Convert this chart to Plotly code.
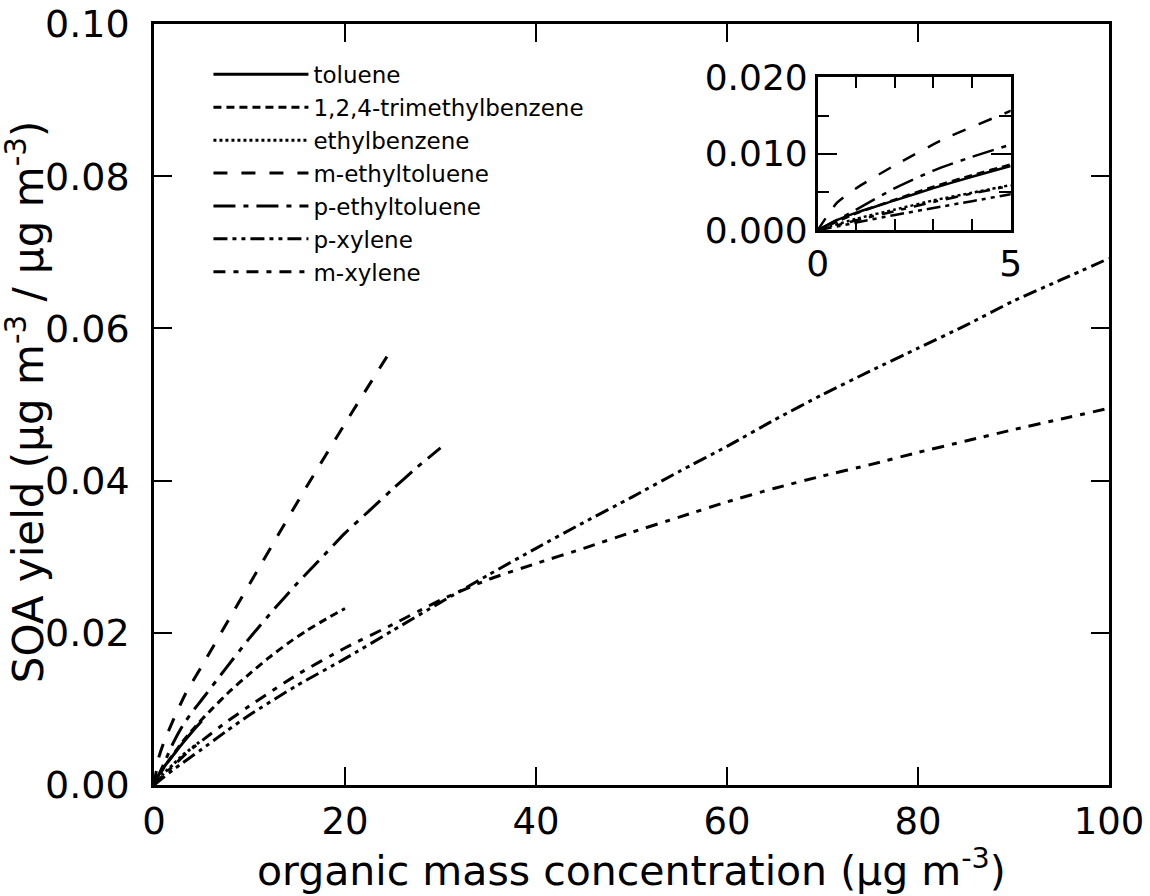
import plotly.graph_objects as go

# ---------------- data ----------------
names = ["toluene", "1,2,4-trimethylbenzene", "ethylbenzene", "m-ethyltoluene",
         "p-ethyltoluene", "p-xylene", "m-xylene"]

toluene_x = [0, 0.4, 1, 2, 3, 4, 5]
toluene_y = [0, 0.0011, 0.0023, 0.0039, 0.0055, 0.0070, 0.0084]

tmb_x = [0, 1, 2, 3, 4, 5, 6, 8, 10, 12, 14, 16, 18, 20]
tmb_y = [0, 0.0022, 0.0040, 0.0057, 0.0072, 0.0086, 0.0099, 0.0124, 0.0146,
         0.0167, 0.0186, 0.0203, 0.0218, 0.0232]

ethylbenzene_x = [0, 1, 2, 3, 4, 5]
ethylbenzene_y = [0, 0.0015, 0.0027, 0.0039, 0.0049, 0.0059]

m_ethyltoluene_x = [0, 0.5, 1, 2, 3.3, 5, 8, 11.3, 15.5, 20.4, 25]
m_ethyltoluene_y = [0, 0.0036, 0.0055, 0.0085, 0.0120, 0.0156, 0.0221, 0.0292,
                    0.0382, 0.0483, 0.0575]

p_ethyltoluene_x = [0, 1, 2, 3, 4, 5, 7.5, 10, 12.5, 15, 17.5, 20, 22.5, 25, 27.5, 30]
p_ethyltoluene_y = [0, 0.0027, 0.0055, 0.0078, 0.0096, 0.0112, 0.0153, 0.0193, 0.0230,
                    0.0265, 0.0298, 0.0331, 0.0360, 0.0389, 0.0417, 0.0443]

xylene_x = [0, 1, 2, 3, 4, 5, 7.5, 10, 15, 20, 25, 30, 35, 40, 45, 50, 55, 60, 65,
            70, 75, 80, 85, 90, 95, 100]
p_xylene_y = [0, 0.0010, 0.0020, 0.0029, 0.0038, 0.0047, 0.0070, 0.0092, 0.0131,
              0.0166, 0.0203, 0.0240, 0.0276, 0.0311, 0.0345, 0.0378, 0.0412, 0.0445,
              0.0480, 0.0513, 0.0544, 0.0574, 0.0604, 0.0636, 0.0664, 0.0692]
m_xylene_y = [0, 0.0013, 0.0025, 0.0037, 0.0048, 0.0058, 0.0082, 0.0104, 0.0145,
              0.0180, 0.0211, 0.0243, 0.0270, 0.0291, 0.0311, 0.0332, 0.0352, 0.0372,
              0.0390, 0.0406, 0.0421, 0.0437, 0.0452, 0.0467, 0.0481, 0.0495]

x_ticks = [0, 20, 40, 60, 80, 100]
y_ticks = [0, 0.02, 0.04, 0.06, 0.08, 0.10]
inset_x_ticks = [0, 1, 2, 3, 4, 5]
inset_x_labels = ["0", "", "", "", "", "5"]
inset_y_ticks = [0, 0.01, 0.02]

series = [
    (names[0], toluene_x, toluene_y, "solid"),
    (names[1], tmb_x, tmb_y, "8px,5px"),
    (names[2], ethylbenzene_x, ethylbenzene_y, "3px,3px"),
    (names[3], m_ethyltoluene_x, m_ethyltoluene_y, "14px,14px"),
    (names[4], p_ethyltoluene_x, p_ethyltoluene_y, "22px,8px,5px,8px"),
    (names[5], xylene_x, p_xylene_y, "14px,5px,4px,5px,4px,5px"),
    (names[6], xylene_x, m_xylene_y, "12px,8px,5px,8px"),
]

FONT = "DejaVu Sans"
fig = go.Figure()

for name, xs, ys, dash in series:
    fig.add_trace(go.Scatter(
        x=xs, y=ys, mode="lines", name=name,
        line=dict(color="black", width=3, dash=dash, shape="spline", smoothing=0.6),
        xaxis="x", yaxis="y", legendgroup=name,
    ))
for name, xs, ys, dash in series:
    fig.add_trace(go.Scatter(
        x=xs, y=ys, mode="lines", name=name, showlegend=False,
        line=dict(color="black", width=2.5, dash=dash, shape="spline", smoothing=0.6),
        xaxis="x2", yaxis="y2", legendgroup=name,
    ))

axis_common = dict(showgrid=False, zeroline=False, showline=True, linecolor="black",
                   linewidth=2.5, mirror="ticks", ticks="inside", tickcolor="black",
                   tickwidth=2, automargin=False)

fig.update_layout(
    template=None,
    width=1150, height=896,
    margin=dict(l=154, r=41, t=24, b=111),
    paper_bgcolor="white", plot_bgcolor="white",
    font=dict(family=FONT, color="black"),
    xaxis=dict(range=[0, 100], tickvals=x_ticks, ticklen=18, ticklabelstandoff=2,
               tickfont=dict(size=37, family=FONT), domain=[0, 1], **axis_common),
    yaxis=dict(range=[0, 0.1], tickvals=y_ticks, tickformat=".2f", ticklen=18,
               ticklabelstandoff=14,
               tickfont=dict(size=38, family=FONT), domain=[0, 1], **axis_common),
    xaxis2=dict(range=[0, 5], tickvals=inset_x_ticks, ticktext=inset_x_labels, ticklen=11,
                tickfont=dict(size=36, family=FONT), domain=[0.695, 0.897],
                anchor="y2", **axis_common),
    yaxis2=dict(range=[0, 0.02], tickvals=inset_y_ticks, tickformat=".3f", ticklen=20,
                minor=dict(dtick=0.005, ticklen=12, ticks="inside", tickcolor="black", tickwidth=2),
                tickfont=dict(size=36, family=FONT), domain=[0.729, 0.930],
                anchor="x2", **axis_common),
    legend=dict(x=0.057, y=0.962, xanchor="left", yanchor="top",
                font=dict(size=23, family=FONT), itemwidth=95,
                bgcolor="rgba(0,0,0,0)", tracegroupgap=0),
    showlegend=True,
    annotations=[
        dict(text="organic mass concentration (\u00b5g m<sup>-3</sup>)",
             xref="paper", yref="paper", x=0.5, y=-0.109, xanchor="center",
             yanchor="middle", showarrow=False, font=dict(size=41, family=FONT)),
        dict(text="SOA yield (\u00b5g m<sup>-3</sup> / \u00b5g m<sup>-3</sup>)",
             xref="paper", yref="paper", x=-0.134, y=0.503, xanchor="center",
             yanchor="middle", textangle=-90, showarrow=False,
             font=dict(size=42, family=FONT)),
    ],
)

fig.write_html("out.html")
